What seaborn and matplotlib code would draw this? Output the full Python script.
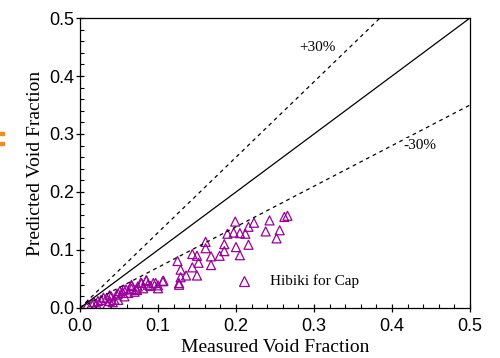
import numpy as np
import pandas as pd
import matplotlib
matplotlib.use("Agg")
import matplotlib.pyplot as plt
import seaborn as sns
from matplotlib.ticker import MultipleLocator, FormatStrFormatter
from matplotlib.patches import Rectangle

# Measured vs predicted void fraction (Hibiki correlation for cap bubbles)
measured = [
    0.199, 0.223, 0.243, 0.262, 0.266, 0.216, 0.189, 0.197, 0.205, 0.212,
    0.238, 0.256, 0.252, 0.161, 0.161, 0.185, 0.185, 0.216, 0.200, 0.205,
    0.144, 0.150, 0.168, 0.179, 0.152, 0.168, 0.125, 0.144, 0.129, 0.136,
    0.129, 0.150, 0.127, 0.127, 0.107,
    0.106, 0.100, 0.094, 0.085, 0.087, 0.079, 0.074, 0.066, 0.066, 0.059,
    0.055, 0.051, 0.047, 0.040, 0.044, 0.035, 0.034, 0.027, 0.023, 0.015,
    0.010, 0.021, 0.049, 0.057, 0.038, 0.072, 0.081,
    0.085, 0.097, 0.078, 0.090, 0.100, 0.066, 0.073, 0.056, 0.049, 0.038,
    0.018, 0.030, 0.042, 0.062, 0.070,
]
predicted = [
    0.149, 0.147, 0.151, 0.157, 0.159, 0.140, 0.128, 0.130, 0.129, 0.128,
    0.132, 0.134, 0.120, 0.114, 0.103, 0.110, 0.098, 0.109, 0.105, 0.091,
    0.093, 0.090, 0.089, 0.090, 0.078, 0.074, 0.081, 0.070, 0.066, 0.056,
    0.053, 0.056, 0.043, 0.040, 0.047,
    0.046, 0.039, 0.043, 0.047, 0.040, 0.043, 0.037, 0.040, 0.033, 0.032,
    0.026, 0.029, 0.023, 0.020, 0.014, 0.006, 0.017, 0.014, 0.012, 0.007,
    0.006, 0.007, 0.014, 0.020, 0.012, 0.032, 0.034,
    0.048, 0.043, 0.044, 0.038, 0.034, 0.038, 0.031, 0.032, 0.025, 0.022,
    0.010, 0.018, 0.010, 0.026, 0.028,
]

# Reference lines: perfect agreement and +/-30 % bands
line_x = [0.0, 0.5]
band_factors = {"exact": 1.0, "+30%": 1.3, "-30%": 0.7}

df = pd.DataFrame({"Measured": measured, "Predicted": predicted})

sns.set_theme(style="white")
plt.rcParams["font.family"] = ["Liberation Serif", "DejaVu Serif"]
plt.rcParams["text.color"] = "black"
plt.rcParams["axes.labelcolor"] = "black"
plt.rcParams["xtick.color"] = "black"
plt.rcParams["ytick.color"] = "black"

fig = plt.figure(figsize=(5.0, 3.58), dpi=100)
ax = fig.add_axes([0.16, 0.1397, 0.78, 0.81])

lx = np.array(line_x)
ax.plot(lx, band_factors["exact"] * lx, color="black", lw=0.9)
ax.plot(lx, band_factors["+30%"] * lx, color="black", lw=0.9, ls=(0, (3, 3)))
ax.plot(lx, band_factors["-30%"] * lx, color="black", lw=0.9, ls=(0, (3, 3)))

purple = "#990099"
sns.scatterplot(data=df, x="Measured", y="Predicted", ax=ax, marker="^",
                s=42, facecolor="none", edgecolor=purple, linewidth=0.9,
                legend=False)

ax.text(0.305, 0.45, "+30%", fontsize=11, ha="center", va="center",
        bbox=dict(facecolor="white", edgecolor="none", pad=0.5))
ax.text(0.436, 0.281, "-30%", fontsize=11, ha="center", va="center",
        bbox=dict(facecolor="white", edgecolor="none", pad=0.5))

# Legend entry
ax.plot([0.42], [0.093], transform=ax.transAxes, marker="^", ms=6.5,
        mfc="none", mec=purple, mew=0.9, ls="none")
ax.text(0.487, 0.093, "Hibiki for Cap", transform=ax.transAxes,
        fontsize=11, va="center", ha="left")

ax.set_xlim(0, 0.5)
ax.set_ylim(0, 0.5)
ax.xaxis.set_major_locator(MultipleLocator(0.1))
ax.yaxis.set_major_locator(MultipleLocator(0.1))
ax.xaxis.set_minor_locator(MultipleLocator(0.02))
ax.yaxis.set_minor_locator(MultipleLocator(0.02))
ax.xaxis.set_major_formatter(FormatStrFormatter("%.1f"))
ax.yaxis.set_major_formatter(FormatStrFormatter("%.1f"))
ax.tick_params(which="major", direction="inout", length=6, width=0.9,
               bottom=True, left=True, top=False, right=False,
               labelsize=13, color="black", labelcolor="black")
ax.tick_params(axis="x", which="major", pad=4)
ax.tick_params(axis="y", which="major", pad=1)
ax.tick_params(which="minor", direction="in", length=3, width=0.8,
               bottom=True, left=True, top=False, right=False, color="black")
for lab in ax.get_xticklabels() + ax.get_yticklabels():
    lab.set_fontfamily(["Liberation Sans", "DejaVu Sans"])

for sp in ax.spines.values():
    sp.set_color("black")
    sp.set_linewidth(0.9)

ax.set_xlabel("Measured Void Fraction", fontsize=14, labelpad=3)
ax.set_ylabel("Predicted Void Fraction", fontsize=14, labelpad=4)

# small orange marks on the left margin
fig.patches.append(Rectangle((0.0, 1 - 135 / 358), 4 / 500, 3 / 358,
                             transform=fig.transFigure, color="#f08c1e"))
fig.patches.append(Rectangle((0.0, 1 - 145 / 358), 4 / 500, 3 / 358,
                             transform=fig.transFigure, color="#f08c1e"))

fig.savefig("out.png", dpi=100)
